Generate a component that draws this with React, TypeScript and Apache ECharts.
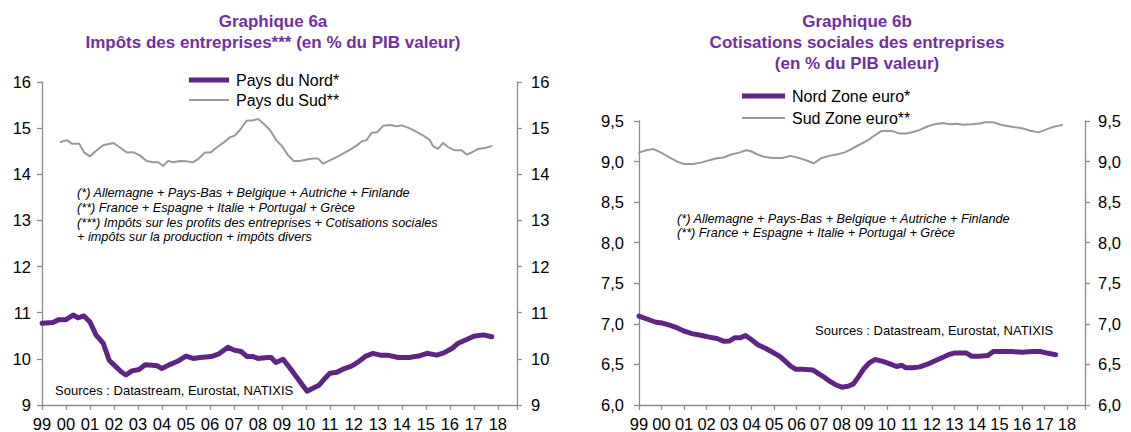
import { useEffect, useRef } from 'react';
import * as echarts from 'echarts';

// ---------- DATA ----------
const xTickYears = [1999, 2018];
const xAxisMax = 2018.8;

const g6aYTicks = [9, 16];
const g6bYTicks = [6, 9.5];

// Graphique 6a : Impôts des entreprises (% PIB valeur)
const g6aNord: [number, number][] = [
  [1999.0, 10.77], [1999.45, 10.79], [1999.7, 10.85], [2000.0, 10.85], [2000.3, 10.95], [2000.5, 10.89],
  [2000.75, 10.93], [2001.0, 10.80], [2001.25, 10.52], [2001.55, 10.34], [2001.8, 9.97], [2002.0, 9.87],
  [2002.3, 9.72], [2002.5, 9.65], [2002.75, 9.74], [2003.05, 9.77], [2003.3, 9.87], [2003.6, 9.86],
  [2003.8, 9.85], [2004.0, 9.79], [2004.3, 9.87], [2004.7, 9.96], [2005.0, 10.06], [2005.3, 10.01],
  [2005.6, 10.03], [2006.05, 10.05], [2006.35, 10.10], [2006.75, 10.25], [2007.0, 10.19], [2007.3, 10.16],
  [2007.55, 10.05], [2007.8, 10.05], [2008.0, 10.01], [2008.4, 10.03], [2008.55, 10.03], [2008.75, 9.92],
  [2009.05, 9.99], [2009.35, 9.79], [2009.65, 9.58], [2009.9, 9.40], [2010.05, 9.30], [2010.35, 9.38],
  [2010.55, 9.43], [2010.8, 9.58], [2011.0, 9.69], [2011.3, 9.71], [2011.6, 9.79], [2011.9, 9.84],
  [2012.2, 9.94], [2012.5, 10.06], [2012.8, 10.12], [2013.1, 10.08], [2013.4, 10.08], [2013.85, 10.03],
  [2014.3, 10.03], [2014.7, 10.06], [2015.05, 10.12], [2015.45, 10.08], [2015.75, 10.13], [2016.1, 10.23],
  [2016.35, 10.34], [2016.7, 10.42], [2017.0, 10.49], [2017.4, 10.52], [2017.75, 10.48],
];
const g6aSud: [number, number][] = [
  [1999.78, 14.70], [2000.03, 14.74], [2000.26, 14.66], [2000.55, 14.66], [2000.76, 14.47], [2001.0, 14.39],
  [2001.28, 14.52], [2001.55, 14.63], [2001.97, 14.68], [2002.25, 14.58], [2002.55, 14.47], [2002.8, 14.48],
  [2003.08, 14.41], [2003.36, 14.29], [2003.64, 14.26], [2003.85, 14.26], [2004.05, 14.18], [2004.26, 14.29],
  [2004.47, 14.26], [2004.75, 14.29], [2005.03, 14.28], [2005.28, 14.26], [2005.51, 14.33], [2005.79, 14.47],
  [2006.03, 14.47], [2006.28, 14.58], [2006.55, 14.68], [2006.83, 14.80], [2007.04, 14.84], [2007.25, 14.96],
  [2007.53, 15.16], [2007.8, 15.17], [2008.01, 15.20], [2008.25, 15.09], [2008.5, 14.96], [2008.78, 14.73],
  [2008.99, 14.62], [2009.26, 14.41], [2009.5, 14.29], [2009.75, 14.29], [2010.03, 14.32], [2010.3, 14.34],
  [2010.51, 14.34], [2010.72, 14.23], [2011.0, 14.30], [2011.28, 14.37], [2011.55, 14.45], [2011.83, 14.53],
  [2012.11, 14.62], [2012.32, 14.71], [2012.53, 14.74], [2012.74, 14.90], [2012.97, 14.91], [2013.22, 15.05],
  [2013.5, 15.07], [2013.78, 15.04], [2013.99, 15.06], [2014.26, 15.01], [2014.54, 14.94], [2014.89, 14.84],
  [2015.17, 14.74], [2015.3, 14.61], [2015.51, 14.55], [2015.72, 14.68], [2015.93, 14.59], [2016.21, 14.52],
  [2016.49, 14.52], [2016.7, 14.43], [2016.9, 14.47], [2017.18, 14.55], [2017.46, 14.57], [2017.74, 14.61],
];

// Graphique 6b : Cotisations sociales des entreprises (% PIB valeur)
const g6bNord: [number, number][] = [
  [1999.0, 7.095], [1999.35, 7.06], [1999.75, 7.02], [2000.04, 7.01], [2000.39, 6.98], [2000.7, 6.95],
  [2001.02, 6.91], [2001.34, 6.88], [2001.74, 6.86], [2002.06, 6.84], [2002.46, 6.82], [2002.78, 6.785],
  [2003.02, 6.79], [2003.26, 6.83], [2003.5, 6.83], [2003.73, 6.855], [2003.97, 6.81], [2004.29, 6.74],
  [2004.61, 6.70], [2004.93, 6.65], [2005.25, 6.60], [2005.49, 6.54], [2005.73, 6.48], [2005.97, 6.44],
  [2006.28, 6.44], [2006.73, 6.43], [2007.0, 6.38], [2007.24, 6.34], [2007.48, 6.29], [2007.72, 6.25],
  [2008.0, 6.22], [2008.28, 6.23], [2008.52, 6.26], [2008.75, 6.35], [2008.99, 6.45], [2009.23, 6.52],
  [2009.47, 6.56], [2009.79, 6.54], [2010.11, 6.51], [2010.43, 6.475], [2010.67, 6.49], [2010.83, 6.46],
  [2011.15, 6.46], [2011.46, 6.47], [2011.78, 6.50], [2012.1, 6.54], [2012.42, 6.58], [2012.74, 6.62],
  [2012.98, 6.64], [2013.3, 6.64], [2013.54, 6.64], [2013.78, 6.60], [2014.09, 6.60], [2014.49, 6.61],
  [2014.73, 6.66], [2015.05, 6.66], [2015.53, 6.66], [2016.01, 6.65], [2016.48, 6.66], [2016.8, 6.66],
  [2017.12, 6.64], [2017.5, 6.62],
];
const g6bSud: [number, number][] = [
  [1999.0, 9.11], [1999.33, 9.14], [1999.63, 9.155], [1999.92, 9.12], [2000.37, 9.05], [2000.7, 9.0],
  [2001.0, 8.97], [2001.41, 8.97], [2001.79, 8.99], [2002.16, 9.02], [2002.46, 9.04], [2002.75, 9.05],
  [2003.13, 9.09], [2003.46, 9.11], [2003.75, 9.14], [2003.94, 9.13], [2004.24, 9.09], [2004.54, 9.06],
  [2004.91, 9.045], [2005.36, 9.045], [2005.73, 9.07], [2006.1, 9.045], [2006.47, 9.01], [2006.77, 8.98],
  [2007.07, 9.04], [2007.44, 9.07], [2007.81, 9.09], [2008.11, 9.11], [2008.4, 9.15], [2008.7, 9.195],
  [2009.15, 9.26], [2009.45, 9.32], [2009.75, 9.375], [2009.97, 9.38], [2010.27, 9.375], [2010.56, 9.345],
  [2010.86, 9.345], [2011.16, 9.365], [2011.46, 9.39], [2011.83, 9.435], [2012.13, 9.46], [2012.5, 9.475],
  [2012.8, 9.46], [2013.09, 9.465], [2013.39, 9.455], [2013.76, 9.46], [2014.13, 9.47], [2014.36, 9.485],
  [2014.73, 9.485], [2015.1, 9.45], [2015.55, 9.43], [2016.0, 9.41], [2016.37, 9.38], [2016.74, 9.36],
  [2017.04, 9.39], [2017.41, 9.43], [2017.78, 9.45],
];

const names6a = ['Pays du Nord*', 'Pays du Sud**'];
const names6b = ['Nord Zone euro*', 'Sud Zone euro**'];

const title6a = 'Graphique 6a\nImpôts des entreprises*** (en % du PIB valeur)';
const title6b = 'Graphique 6b\nCotisations sociales des entreprises\n(en % du PIB valeur)';

const notes6a = [
  '(*) Allemagne + Pays-Bas + Belgique + Autriche + Finlande',
  '(**) France + Espagne + Italie + Portugal + Grèce',
  '(***) Impôts sur les profits des entreprises + Cotisations sociales',
  '+ impôts sur la production + impôts divers',
];
const notes6b = [
  '(*) Allemagne + Pays-Bas + Belgique + Autriche + Finlande',
  '(**) France + Espagne + Italie + Portugal + Grèce',
];
const sourceText = 'Sources : Datastream, Eurostat, NATIXIS';

// ---------- STYLE ----------
const FONT = '"Liberation Sans", Arial, Helvetica, sans-serif';
const PURPLE_LINE = '#5E2583';
const PURPLE_TITLE = '#7030A0';
const GREY_LINE = '#999999';
const AXIS = '#8C8C8C';

const G1 = { left: 42, top: 82, right: 517, bottom: 405 };
const G2 = { left: 639, top: 121, right: 1085, bottom: 405 };

function xAxis(gridIndex: number) {
  return {
    type: 'value',
    gridIndex,
    min: xTickYears[0],
    max: xAxisMax,
    interval: 1,
    axisLine: { show: true, onZero: false, lineStyle: { color: AXIS, width: 1.3 } },
    axisTick: { show: true, inside: false, length: 5, lineStyle: { color: AXIS, width: 1.3 } },
    axisLabel: {
      margin: 10,
      fontSize: 16.5,
      fontFamily: FONT,
      color: '#000',
      formatter: (v: number) =>
        Number.isInteger(v) && v <= xTickYears[1] ? String(v % 100).padStart(2, '0') : '',
    },
    splitLine: { show: false },
  };
}

function yAxis(gridIndex: number, pos: 'left' | 'right', ticks: number[], interval: number, margin: number, comma: boolean) {
  return {
    type: 'value',
    gridIndex,
    position: pos,
    min: ticks[0],
    max: ticks[1],
    interval,
    axisLine: { show: true, lineStyle: { color: AXIS, width: 1.3 } },
    axisTick: { show: true, inside: false, length: 5, lineStyle: { color: AXIS, width: 1.3 } },
    axisLabel: {
      margin,
      fontSize: 16.5,
      fontFamily: FONT,
      color: '#000',
      formatter: (v: number) => (comma ? v.toFixed(1).replace('.', ',') : String(v)),
    },
    splitLine: { show: false },
  };
}

function legend(name: string, left: number, top: number, w: number, h: number, color: string) {
  return {
    data: [name],
    left,
    top,
    padding: 0,
    icon: 'rect',
    itemWidth: w,
    itemHeight: h,
    itemStyle: { color },
    textStyle: { fontSize: 16, fontFamily: FONT, color: '#000', padding: [0, 0, 0, 2] },
    selectedMode: false,
  };
}

function noteTexts(lines: string[], x: number, y0: number, step: number) {
  return lines.map((t, i) => ({
    type: 'text',
    x,
    y: y0 + i * step,
    style: {
      text: t,
      font: `italic 12.7px ${FONT}`,
      fill: '#000',
      verticalAlign: 'middle',
      align: 'left',
    },
  }));
}

export default function App() {
  const ref = useRef<HTMLDivElement>(null);

  useEffect(() => {
    if (!ref.current) return;
    const chart = echarts.init(ref.current, null, { renderer: 'svg' });

    const line = (name: string, data: [number, number][], gi: number, yi: number, color: string, width: number) => ({
      type: 'line',
      name,
      data,
      xAxisIndex: gi,
      yAxisIndex: yi,
      symbol: 'none',
      showSymbol: false,
      color,
      itemStyle: { color },
      lineStyle: { color, width, join: 'round', cap: 'round' },
      z: width > 3 ? 3 : 2,
    });

    chart.setOption({
      animation: false,
      backgroundColor: '#fff',
      title: [
        {
          text: title6a,
          left: 273,
          top: 11,
          padding: 0,
          textAlign: 'center',
          textVerticalAlign: 'top',
          textStyle: { fontSize: 17, fontWeight: 'bold', fontFamily: FONT, color: PURPLE_TITLE, lineHeight: 21 },
        },
        {
          text: title6b,
          left: 857,
          top: 11,
          padding: 0,
          textAlign: 'center',
          textVerticalAlign: 'top',
          textStyle: { fontSize: 17, fontWeight: 'bold', fontFamily: FONT, color: PURPLE_TITLE, lineHeight: 21 },
        },
      ],
      legend: [
        legend(names6a[0], 189, 72, 40, 5, PURPLE_LINE),
        legend(names6a[1], 189, 92, 40, 2, GREY_LINE),
        legend(names6b[0], 742, 88, 43, 5, PURPLE_LINE),
        legend(names6b[1], 742, 110, 43, 2, GREY_LINE),
      ],
      grid: [
        { left: G1.left, top: G1.top, width: G1.right - G1.left, height: G1.bottom - G1.top, containLabel: false },
        { left: G2.left, top: G2.top, width: G2.right - G2.left, height: G2.bottom - G2.top, containLabel: false },
      ],
      xAxis: [xAxis(0), xAxis(1)],
      yAxis: [
        yAxis(0, 'left', g6aYTicks, 1, 11, false),
        yAxis(0, 'right', g6aYTicks, 1, 14, false),
        yAxis(1, 'left', g6bYTicks, 0.5, 15, true),
        yAxis(1, 'right', g6bYTicks, 0.5, 13, true),
      ],
      series: [
        line(names6a[1], g6aSud, 0, 0, GREY_LINE, 2),
        line(names6a[0], g6aNord, 0, 0, PURPLE_LINE, 5),
        line(names6b[1], g6bSud, 1, 2, GREY_LINE, 2),
        line(names6b[0], g6bNord, 1, 2, PURPLE_LINE, 5),
      ],
      graphic: [
        ...noteTexts(notes6a, 77, 193, 14.8),
        ...noteTexts(notes6b, 677, 219, 14),
        {
          type: 'text',
          x: 55,
          y: 390,
          style: { text: sourceText, font: `13px ${FONT}`, fill: '#000', verticalAlign: 'middle' },
        },
        {
          type: 'text',
          x: 815,
          y: 330,
          style: { text: sourceText, font: `13px ${FONT}`, fill: '#000', verticalAlign: 'middle' },
        },
      ],
    });

    return () => chart.dispose();
  }, []);

  return (
    <div
      ref={ref}
      style={{ position: 'absolute', left: 0, top: 0, width: 1131, height: 432, background: '#fff' }}
    />
  );
}
